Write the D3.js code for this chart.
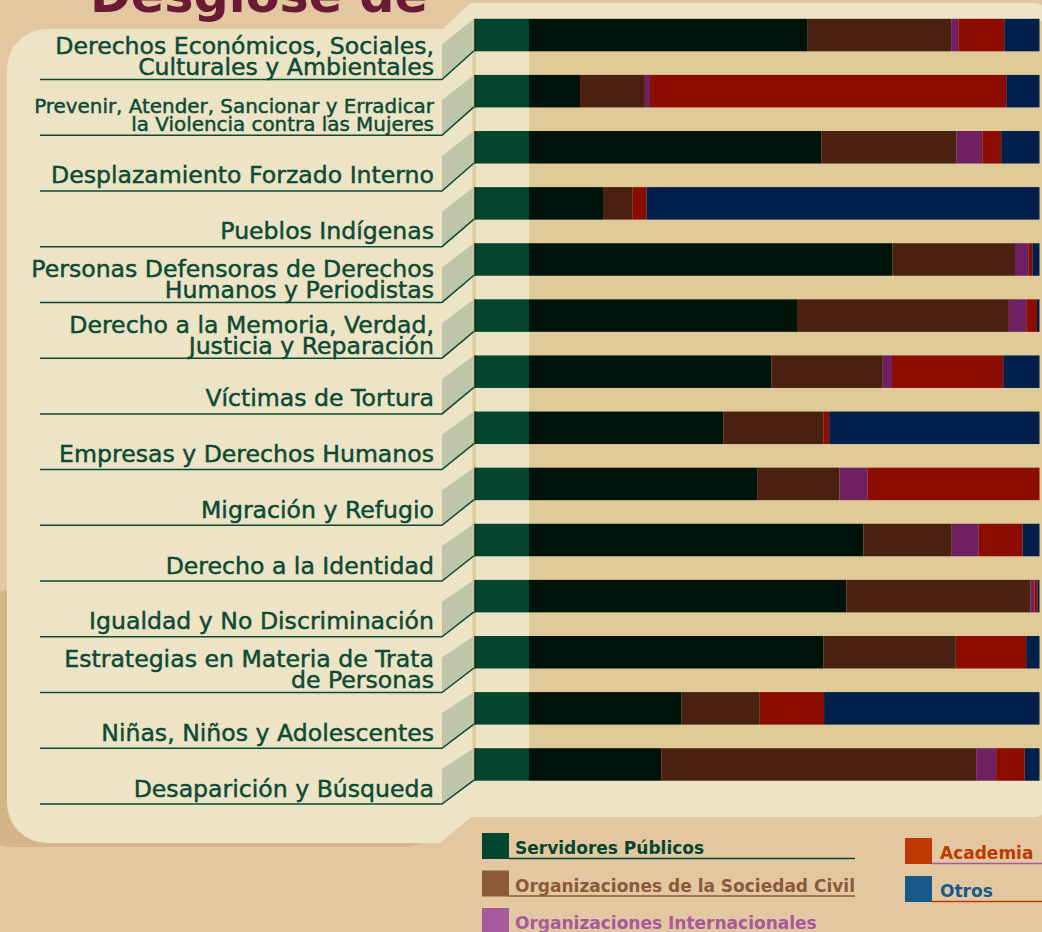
<!DOCTYPE html>
<html lang="es">
<head>
<meta charset="utf-8">
<script src="https://cdn.jsdelivr.net/npm/d3@7"></script>
<style>
  body { margin: 0; background: #e3c7a0; }
  svg { display: block; }
</style>
</head>
<body>
<svg id="chart"></svg>
<script>
// categorias (cada una puede ocupar 1 o 2 lineas)
const categories = [
  ["Derechos Económicos, Sociales,", "Culturales y Ambientales"],
  ["Prevenir, Atender, Sancionar y Erradicar", "la Violencia contra las Mujeres"],
  ["Desplazamiento Forzado Interno"],
  ["Pueblos Indígenas"],
  ["Personas Defensoras de Derechos", "Humanos y Periodistas"],
  ["Derecho a la Memoria, Verdad,", "Justicia y Reparación"],
  ["Víctimas de Tortura"],
  ["Empresas y Derechos Humanos"],
  ["Migración y Refugio"],
  ["Derecho a la Identidad"],
  ["Igualdad y No Discriminación"],
  ["Estrategias en Materia de Trata", "de Personas"],
  ["Niñas, Niños y Adolescentes"],
  ["Desaparición y Búsqueda"]
];

// porcentajes por tipo de participante
const servidores = [54.6, 10.0, 57.3, 14.5, 71.2, 52.5, 47.5, 38.1, 44.8, 65.5, 62.2, 57.7, 29.9, 25.9];
const sociedadCivil = [28.1, 12.7, 26.4, 5.8, 24.0, 41.5, 21.8, 19.6, 16.0, 17.3, 36.0, 25.9, 15.3, 61.7];
const internacionales = [1.4, 1.0, 5.1, 0, 2.7, 3.4, 1.8, 0, 5.5, 5.3, 0.8, 0, 0, 3.9];
const academia = [9.0, 69.8, 3.7, 2.7, 0.7, 2.1, 21.8, 1.1, 33.7, 8.6, 0.6, 13.8, 12.6, 5.6];
const otros = [6.9, 6.5, 7.5, 77.0, 1.4, 0.5, 7.1, 41.2, 0, 3.3, 0.4, 2.6, 42.2, 2.9];

const seriesKeys = ["servidores", "sociedadCivil", "internacionales", "academia", "otros"];
const seriesNames = ["Servidores Públicos", "Organizaciones de la Sociedad Civil",
  "Organizaciones Internacionales", "Academia", "Otros"];

const barColors = ["#00130a", "#4a2010", "#6e2060", "#8b0c00", "#001f4a"];
const legendColors = ["#03452f", "#8a5a3a", "#a65a9c", "#bf3a00", "#155a8a"];

const width = 1042, height = 932;
const textGreen = "#0b4a35";
const panelColor = "#ede3c5";
const stripeColor = "#dfcb98";

const table = categories.map((c, i) => ({
  i: i,
  servidores: servidores[i],
  sociedadCivil: sociedadCivil[i],
  internacionales: internacionales[i],
  academia: academia[i],
  otros: otros[i]
}));

const svg = d3.select("#chart")
  .attr("width", width)
  .attr("height", height)
  .style("font-family", "'DejaVu Sans', sans-serif");

// fondo y panel
svg.append("rect").attr("width", width).attr("height", height).attr("fill", "#e3c7a0");
svg.append("rect")
  .attr("x", -20).attr("y", 590).attr("width", 455).attr("height", 257)
  .attr("rx", 30).attr("fill", "#d5b48a");

svg.append("path")
  .attr("d", "M7,69 A40,40 0 0 1 47,29 H443 L470,3 H1035 A12,12 0 0 1 1047,15 V805 " +
             "A12,12 0 0 1 1035,817 H471 L440,843 H47 A40,40 0 0 1 7,803 Z")
  .attr("fill", panelColor);

// titulo (cortado arriba)
svg.append("text")
  .attr("x", 90).attr("y", 12)
  .attr("font-size", 50).attr("font-weight", 800)
  .attr("fill", "#6b1a36")
  .attr("textLength", 338).attr("lengthAdjust", "spacingAndGlyphs")
  .text("Desglose de");

// escalas
const y = d3.scaleBand()
  .domain(d3.range(categories.length))
  .range([18.8, 780.7])
  .paddingInner(0.4208)
  .paddingOuter(0);

const yLabel = d3.scalePoint()
  .domain(d3.range(categories.length))
  .range([79.5, 804]);

const x = d3.scaleLinear().domain([0, 100]).range([529, 1039.5]);

const bw = y.bandwidth();

// franjas de fondo
svg.append("rect")
  .attr("x", x(0)).attr("y", y(0) + 2)
  .attr("width", width - x(0)).attr("height", y(categories.length - 1) + bw - y(0) - 2)
  .attr("fill", stripeColor);
svg.append("rect")
  .attr("x", 472.5).attr("y", y(0) + 2)
  .attr("width", 3.5).attr("height", y(categories.length - 1) + bw - y(0) - 2)
  .attr("fill", stripeColor);

// caras laterales 3D y subrayados
const rows = svg.append("g").selectAll("g")
  .data(table)
  .join("g");

rows.append("path")
  .attr("d", d => {
    const uy = yLabel(d.i), t = y(d.i);
    return `M474,${t} L474,${t + bw} L442,${uy} L442,${uy - 35} Z`;
  })
  .attr("fill", "#bec5a8");

rows.append("path")
  .attr("d", d => `M40,${yLabel(d.i)} H442 L474,${y(d.i) + bw - 0.5}`)
  .attr("fill", "none")
  .attr("stroke", textGreen)
  .attr("stroke-width", 1.5);

// bloque verde inicial
rows.append("rect")
  .attr("x", 475).attr("y", d => y(d.i))
  .attr("width", x(0) - 475).attr("height", bw)
  .attr("fill", "#03452f");
rows.append("line")
  .attr("x1", 475).attr("x2", 475)
  .attr("y1", d => y(d.i)).attr("y2", d => y(d.i) + bw)
  .attr("stroke", "#0d2418").attr("stroke-width", 1.5);

// etiquetas
const baseSize = 23.6;
const labels = rows.append("text")
  .attr("text-anchor", "end")
  .attr("fill", textGreen)
  .attr("stroke", textGreen)
  .attr("stroke-width", 0.45)
  .attr("font-size", baseSize);

labels.each(function (d) {
  const el = d3.select(this);
  const lines = categories[d.i];
  lines.forEach(l => el.append("tspan").attr("x", 434).text(l));
  let fs = baseSize;
  const maxW = d3.max(el.selectAll("tspan").nodes(), n => n.getComputedTextLength());
  if (maxW > 410) {
    fs = baseSize * 400 / maxW;
    el.attr("font-size", fs);
  }
  const lh = fs * 0.89;
  const base = yLabel(d.i) - (lines.length > 1 ? 4.5 : 7.5);
  el.selectAll("tspan").attr("y", (t, k) => base - (lines.length - 1 - k) * lh);
});

// barras apiladas
const stacked = d3.stack().keys(seriesKeys)(table);

svg.append("g").selectAll("g")
  .data(stacked)
  .join("g")
  .attr("fill", (s, k) => barColors[k])
  .selectAll("rect")
  .data(s => s.filter(p => p[1] - p[0] > 0))
  .join("rect")
  .attr("x", p => x(p[0]))
  .attr("y", p => y(p.data.i))
  .attr("width", p => x(p[1]) - x(p[0]))
  .attr("height", bw);

// leyenda
const legend = svg.append("g").selectAll("g")
  .data(seriesNames)
  .join("g")
  .attr("transform", (n, k) => k < 3
    ? `translate(482,${833 + k * 37.5})`
    : `translate(905,${838 + (k - 3) * 38})`);

legend.append("rect")
  .attr("width", 27).attr("height", 26)
  .attr("fill", (n, k) => legendColors[k]);

legend.filter((n, k) => k !== 2).append("line")
  .attr("x1", 27).attr("x2", (n, k) => k < 3 ? 373 : 137)
  .attr("y1", 25.5).attr("y2", 25.5)
  .attr("stroke", (n, k) => legendColors[k])
  .attr("stroke-width", 1.5);

legend.append("text")
  .attr("x", (n, k) => k < 3 ? 33 : 35)
  .attr("y", 21)
  .attr("font-size", 17)
  .attr("font-weight", "bold")
  .attr("fill", (n, k) => legendColors[k])
  .text(n => n);
</script>
</body>
</html>
